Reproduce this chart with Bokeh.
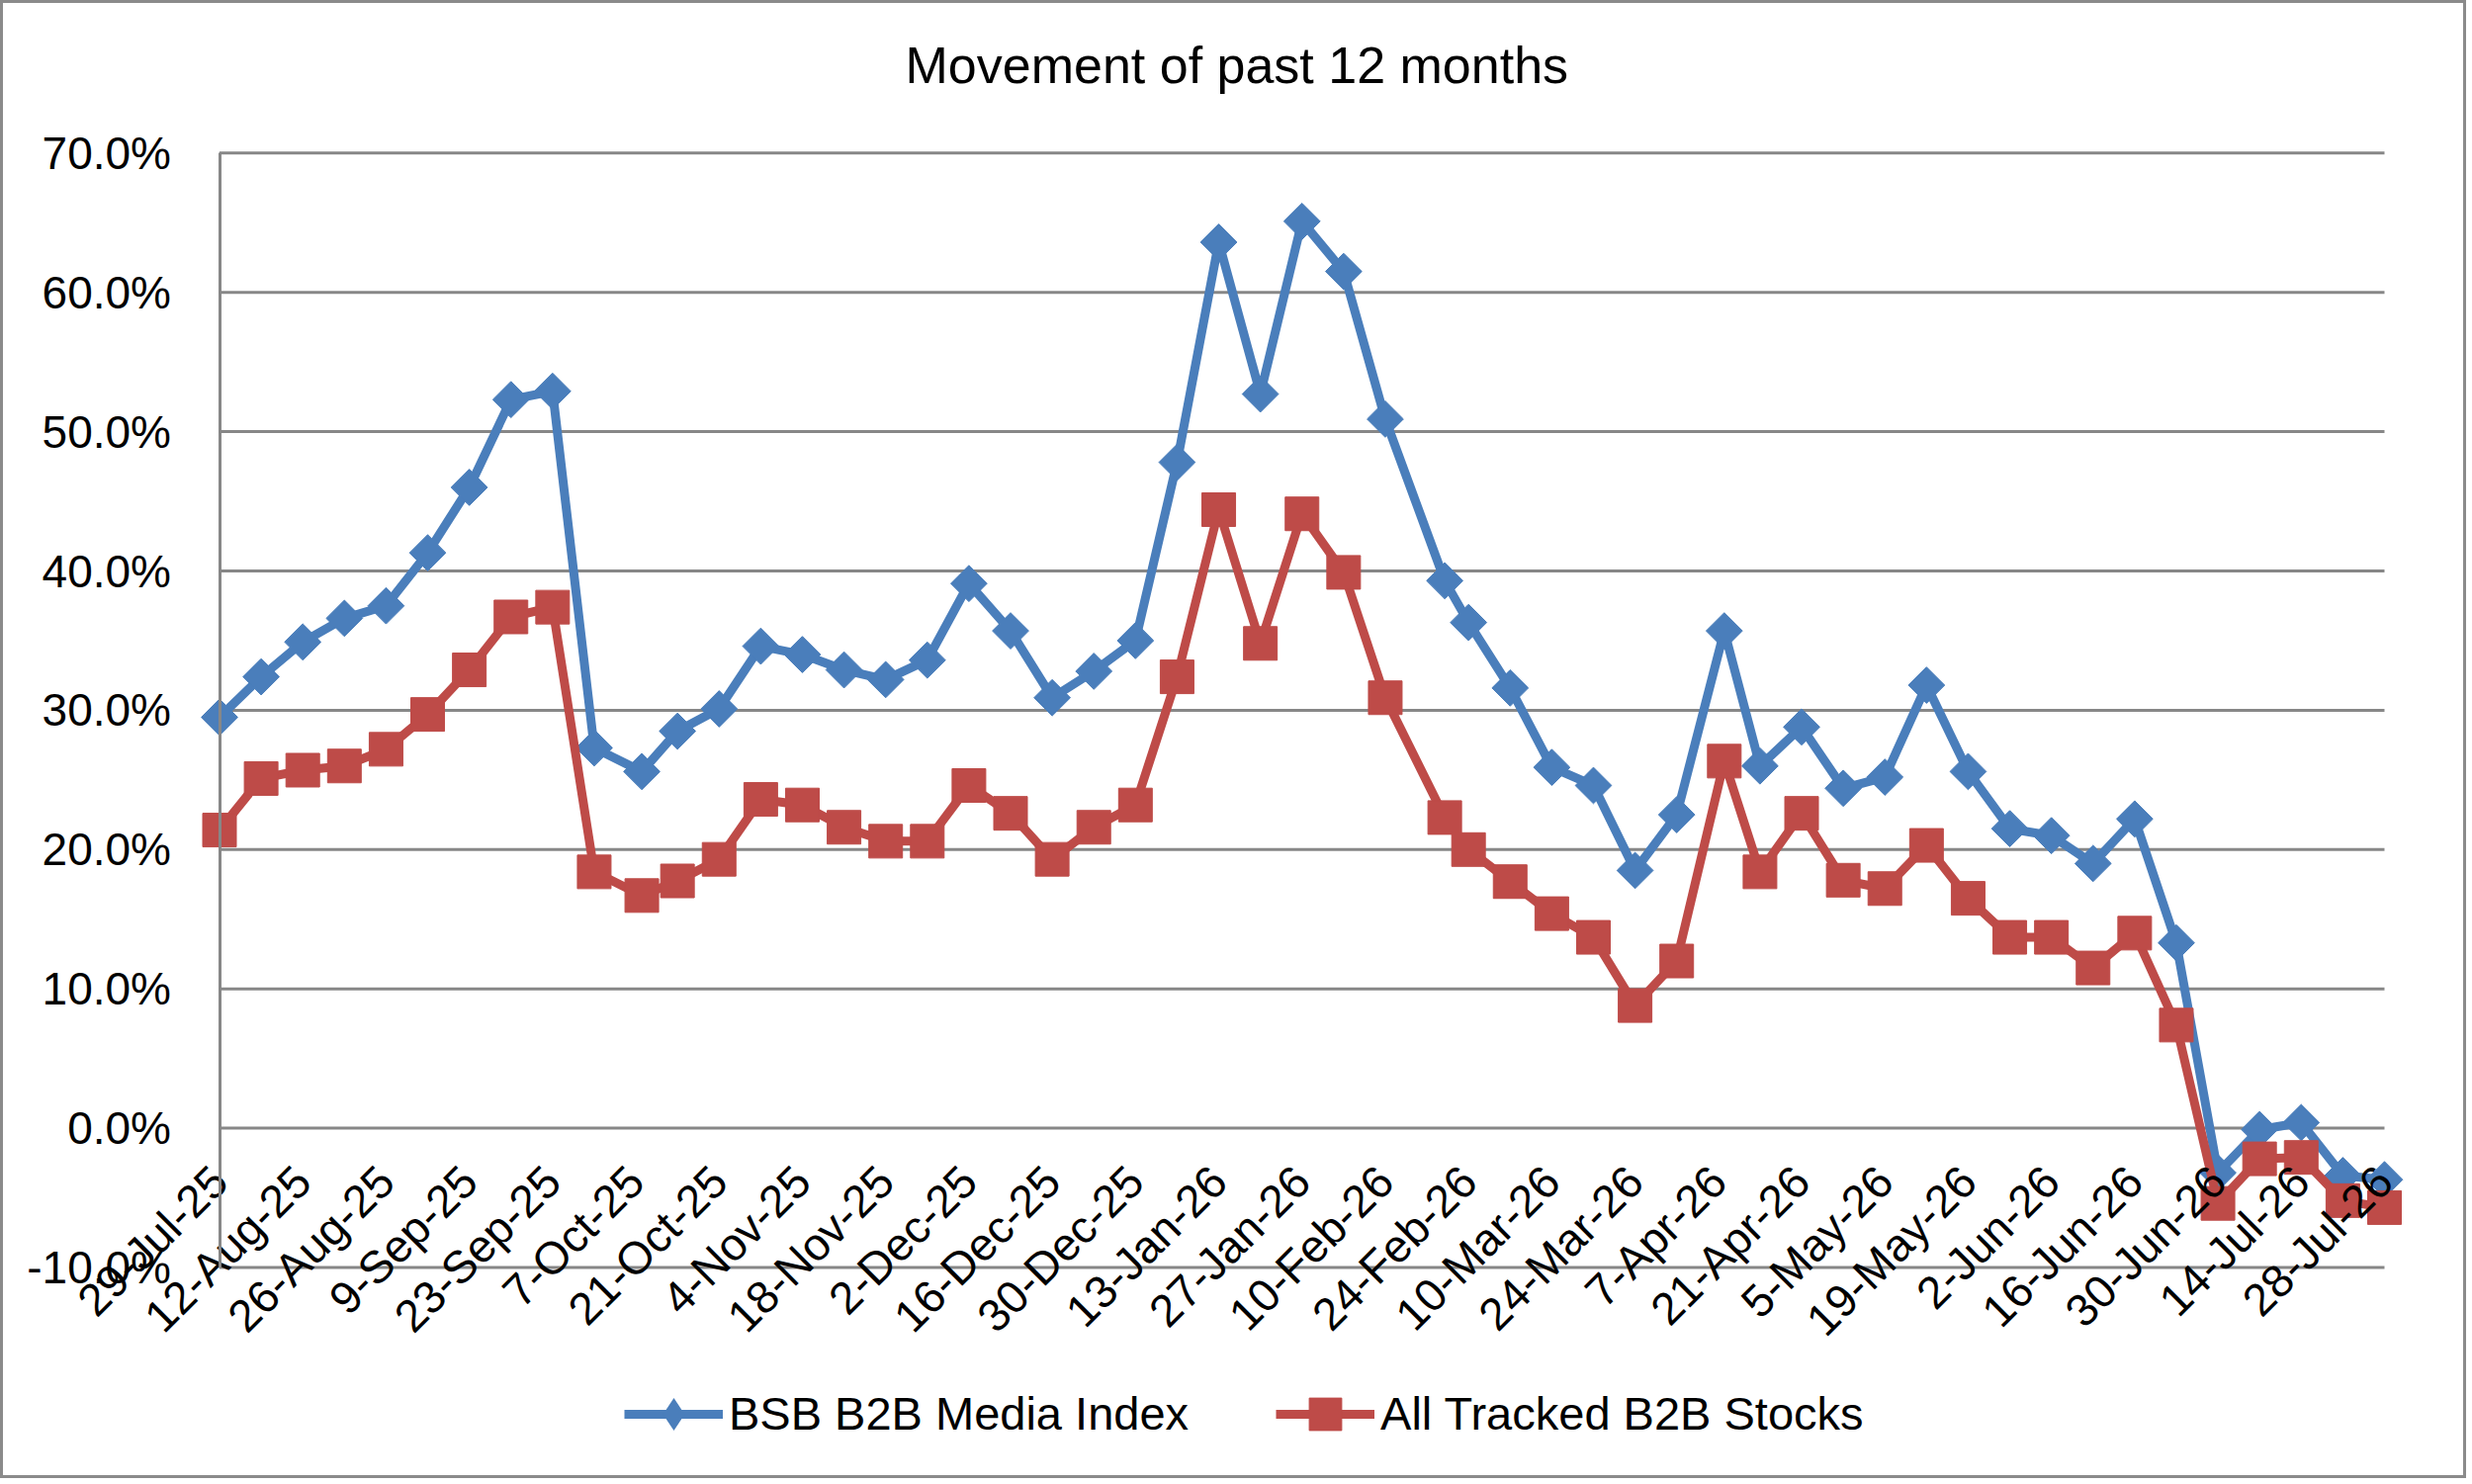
from datetime import date, datetime
import numpy as np
from bokeh.plotting import figure
from bokeh.models import (ColumnDataSource, FixedTicker, NumeralTickFormatter, Range1d,
                          Legend, LegendItem)
from bokeh.embed import file_html
from bokeh.resources import INLINE

# ---------------- data ----------------
title_text = "Movement of past 12 months"
series_names = ["BSB B2B Media Index", "All Tracked B2B Stocks"]

point_dates = [
    "2025-07-29", "2025-08-05", "2025-08-12", "2025-08-19", "2025-08-26", "2025-09-02",
    "2025-09-09", "2025-09-16", "2025-09-23", "2025-09-30", "2025-10-08", "2025-10-14",
    "2025-10-21", "2025-10-28", "2025-11-04", "2025-11-11", "2025-11-18", "2025-11-25",
    "2025-12-02", "2025-12-09", "2025-12-16", "2025-12-23", "2025-12-30", "2026-01-06",
    "2026-01-13", "2026-01-20", "2026-01-27", "2026-02-03", "2026-02-10", "2026-02-20",
    "2026-02-24", "2026-03-03", "2026-03-10", "2026-03-17", "2026-03-24", "2026-03-31",
    "2026-04-08", "2026-04-14", "2026-04-21", "2026-04-28", "2026-05-05", "2026-05-12",
    "2026-05-19", "2026-05-26", "2026-06-02", "2026-06-09", "2026-06-16", "2026-06-23",
    "2026-06-30", "2026-07-07", "2026-07-14", "2026-07-21", "2026-07-28",
]

bsb_index = [
    29.5, 32.4, 34.9, 36.6, 37.5, 41.3, 46.0, 52.3, 52.9, 27.3, 25.6, 28.5,
    30.1, 34.6, 34.0, 32.9, 32.2, 33.6, 39.1, 35.7, 30.9, 32.8, 35.0, 47.8,
    63.6, 52.7, 65.1, 61.5, 50.9, 39.3, 36.3, 31.6, 25.9, 24.6, 18.5, 22.5,
    35.7, 26.0, 28.8, 24.4, 25.2, 31.8, 25.6, 21.5, 21.0, 19.0, 22.2, 13.3,
    -3.2, -0.1, 0.4, -3.4, -3.7,
]

all_b2b = [
    21.4, 25.1, 25.7, 26.0, 27.2, 29.7, 32.9, 36.7, 37.4, 18.4, 16.7, 17.75,
    19.3, 23.6, 23.2, 21.6, 20.6, 20.6, 24.6, 22.6, 19.3, 21.6, 23.2, 32.4,
    44.4, 34.8, 44.1, 39.9, 30.9, 22.3, 20.0, 17.7, 15.4, 13.7, 8.8, 12.0,
    26.35, 18.4, 22.6, 17.8, 17.2, 20.3, 16.5, 13.7, 13.7, 11.5, 14.0, 7.4,
    -5.4, -2.2, -2.1, -5.2, -5.7,
]

tick_labels = [
    "29-Jul-25", "12-Aug-25", "26-Aug-25", "9-Sep-25", "23-Sep-25", "7-Oct-25",
    "21-Oct-25", "4-Nov-25", "18-Nov-25", "2-Dec-25", "16-Dec-25", "30-Dec-25",
    "13-Jan-26", "27-Jan-26", "10-Feb-26", "24-Feb-26", "10-Mar-26", "24-Mar-26",
    "7-Apr-26", "21-Apr-26", "5-May-26", "19-May-26", "2-Jun-26", "16-Jun-26",
    "30-Jun-26", "14-Jul-26", "28-Jul-26",
]

y_ticks_pct = [-10, 0, 10, 20, 30, 40, 50, 60, 70]

# ---------------- derived ----------------
start = datetime.strptime(tick_labels[0], "%d-%b-%y").date()
days = [(date.fromisoformat(d) - start).days for d in point_dates]
tick_days = [(datetime.strptime(t, "%d-%b-%y").date() - start).days for t in tick_labels]
y_ticks = [v / 100 for v in y_ticks_pct]

FONT = "Liberation Sans"
BLUE = "#4A7EBB"
RED = "#BE4B48"
GRID = "#878787"

# ---------------- layout (page pixels) ----------------
W, H, BORDER = 2494, 1495, 3
MB_TOP = 107
frame_l, frame_r = BORDER, BORDER + W
frame_t, frame_b = BORDER + MB_TOP, BORDER + H
PA_LEFT, PA_RIGHT = 221.5, 2411.0        # plot-area edges (first / last date)
Y_TOP_PX = 154.3                          # pixel row of the top tick
PX_PER_UNIT = 1409.0                      # pixels per 100 %

x0, x1 = tick_days[0], tick_days[-1]
px_per_day = (PA_RIGHT - PA_LEFT) / (x1 - x0)
x_start = x0 - (PA_LEFT - frame_l) / px_per_day
x_end = x1 + (frame_r - PA_RIGHT) / px_per_day
y_hi = y_ticks[-1]
y_start = y_hi - (frame_b - Y_TOP_PX) / PX_PER_UNIT
y_end = y_hi + (Y_TOP_PX - frame_t) / PX_PER_UNIT

p = figure(width=W, height=H, output_backend="svg", toolbar_location=None,
           x_range=Range1d(x_start, x_end), y_range=Range1d(y_start, y_end),
           min_border_left=0, min_border_right=0, min_border_top=MB_TOP,
           min_border_bottom=0)
p.styles = {"border": f"{BORDER}px solid #8a8a8a"}
p.background_fill_color = "white"
p.border_fill_color = "white"
p.outline_line_color = None

# title
p.title.text = title_text
p.title.align = "left"
p.title.offset = 912
p.title.standoff = 31
p.title.text_font = FONT
p.title.text_font_size = "52px"
p.title.text_font_style = "normal"
p.title.text_color = "black"

# horizontal gridlines limited to the plot area (first to last date)
p.xgrid.visible = False
p.ygrid.visible = False
p.segment(x0=[x0] * len(y_ticks), x1=[x1] * len(y_ticks), y0=y_ticks, y1=y_ticks,
          line_color=GRID, line_width=3, level="underlay")

# y axis (drawn at the first date, like the original)
p.yaxis.ticker = FixedTicker(ticks=y_ticks)
p.yaxis.fixed_location = x0
p.yaxis.bounds = (y_ticks[0], y_ticks[-1])
p.yaxis.formatter = NumeralTickFormatter(format="0.0%")
p.yaxis.axis_line_color = GRID
p.yaxis.axis_line_width = 3
p.yaxis.major_tick_line_color = None
p.yaxis.minor_tick_line_color = None
p.yaxis.major_label_standoff = 43
p.yaxis.major_label_text_font = FONT
p.yaxis.major_label_text_font_size = "46px"
p.yaxis.major_label_text_color = "black"

# x axis (crosses at 0 like the original)
p.xaxis.ticker = FixedTicker(ticks=tick_days)
p.xaxis.major_label_overrides = {d: t for d, t in zip(tick_days, tick_labels)}
p.xaxis.fixed_location = 0
p.xaxis.major_label_orientation = np.pi / 4
p.xaxis.axis_line_color = None
p.xaxis.major_tick_line_color = None
p.xaxis.minor_tick_line_color = None
p.xaxis.major_label_standoff = 40
p.xaxis.major_label_text_font = FONT
p.xaxis.major_label_text_font_size = "46px"
p.xaxis.major_label_text_color = "black"

src_b = ColumnDataSource(dict(x=days, y=np.array(bsb_index) / 100))
src_r = ColumnDataSource(dict(x=days, y=np.array(all_b2b) / 100))

r1 = p.line("x", "y", source=src_b, line_color=BLUE, line_width=9, line_join="round")
r2 = p.scatter("x", "y", source=src_b, marker="square", angle=np.pi / 4, size=26,
               fill_color=BLUE, line_color=BLUE)
# legend proxy: diamond marker of size 0 on the same points (legend glyphs are
# drawn unrotated and sized from the legend box, so this shows a diamond there)
leg_b = p.scatter("x", "y", source=src_b, marker="diamond", size=0,
                  fill_color=BLUE, line_color=BLUE, line_width=0.01)
r3 = p.line("x", "y", source=src_r, line_color=RED, line_width=9, line_join="round")
r4 = p.scatter("x", "y", source=src_r, marker="square", size=34,
               fill_color=RED, line_color=RED)

GLYPH_H = 82
LEG_LEFT, LEG_CY = 631, 1429.5
legend = Legend(items=[LegendItem(label=series_names[0], renderers=[r1, leg_b]),
                       LegendItem(label=series_names[1], renderers=[r3, r4])],
                orientation="horizontal",
                # location is the legend's bottom-left corner, relative to the frame
                location=(LEG_LEFT - frame_l, frame_b - (LEG_CY + GLYPH_H / 2)),
                label_text_font=FONT, label_text_font_size="47px",
                label_text_color="black",
                glyph_width=100, glyph_height=GLYPH_H, label_standoff=6, spacing=88,
                padding=0, margin=0, border_line_color=None,
                background_fill_alpha=0)
p.add_layout(legend, "center")

open("out.html", "w").write(file_html(p, INLINE))
